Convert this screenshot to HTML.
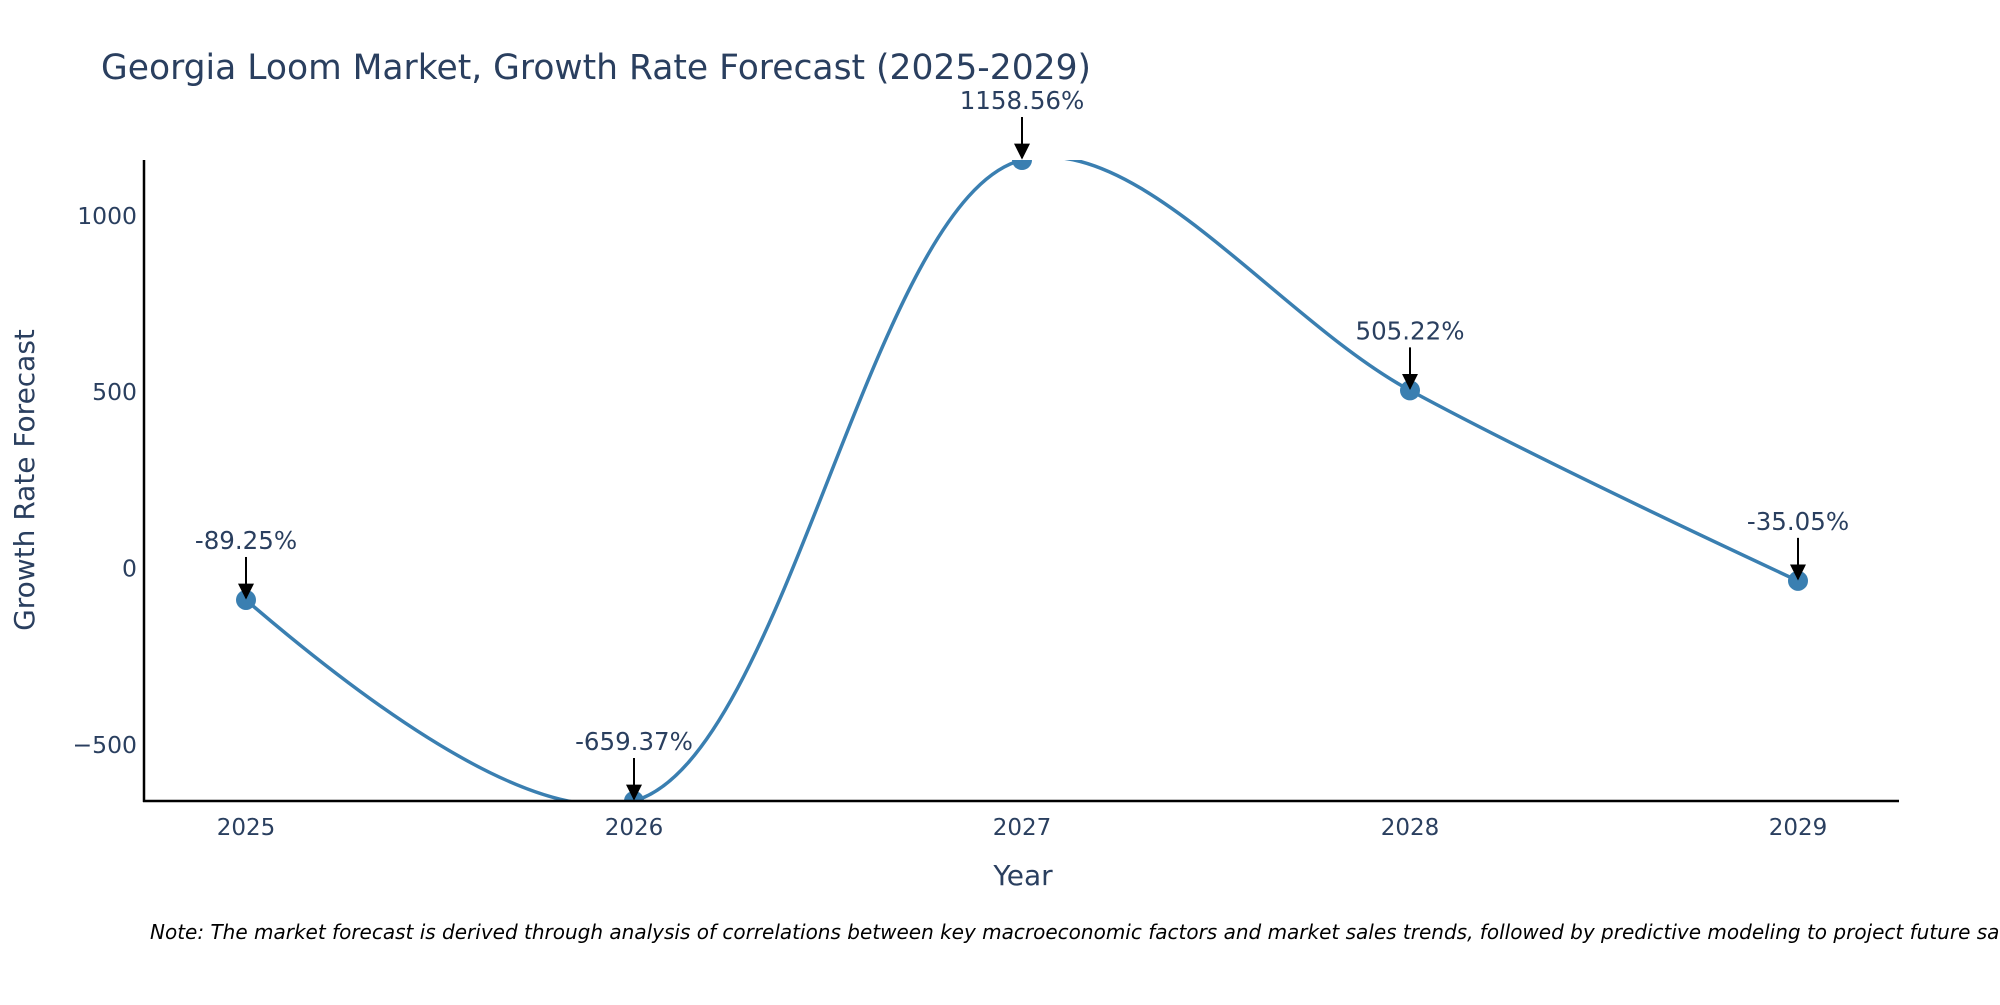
<!DOCTYPE html>
<html><head><meta charset="utf-8"><style>
body{margin:0;background:#fff;}
svg{font-family:"Liberation Sans","DejaVu Sans",sans-serif;}
</style></head><body>
<svg width="2000" height="1000" viewBox="0 0 2000 1000" xmlns="http://www.w3.org/2000/svg">
<defs><clipPath id="pc"><rect x="144" y="160" width="1756" height="641"/></clipPath>
<marker id="ah" viewBox="0 0 10 10" refX="9" refY="5" markerWidth="8" markerHeight="8" orient="auto"><path d="M0,0 L10,5 L0,10 z" fill="#000"/></marker></defs>
<text x="101" y="79" font-size="34.5" fill="#2a3f5f" font-family="DejaVu Sans, sans-serif">Georgia Loom Market, Growth Rate Forecast (2025-2029)</text>
<g id="axes"></g>
<g id="series" clip-path="url(#pc)"></g>
<g id="ann"></g>
<line x1="144" y1="160" x2="144" y2="802" stroke="#000" stroke-width="2.5"/>
<line x1="143" y1="801" x2="1899" y2="801" stroke="#000" stroke-width="2.5"/>
<text x="1023" y="885" font-size="28" fill="#2a3f5f" text-anchor="middle" font-family="DejaVu Sans, sans-serif">Year</text>
<text transform="translate(34,480) rotate(-90)" font-size="28" fill="#2a3f5f" text-anchor="middle" font-family="DejaVu Sans, sans-serif">Growth Rate Forecast</text>
<text x="150" y="939" font-size="20" font-style="italic" fill="#000" font-family="DejaVu Sans, sans-serif">Note: The market forecast is derived through analysis of correlations between key macroeconomic factors and market sales trends, followed by predictive modeling to project future sales.</text>
</svg>
<script>
const years=[2025,2026,2027,2028,2029];
const growth=[-89.25,-659.37,1158.56,505.22,-35.05];
const labels=["-89.25%","-659.37%","1158.56%","505.22%","-35.05%"];
const yTicks=[-500,0,500,1000];
const NS="http://www.w3.org/2000/svg";
const yMin=-659.37,yMax=1158.56;
const xs=v=>246+(v-2025)*388;
const ys=v=>801-(v-yMin)/(yMax-yMin)*641;
function el(t,a,p){const e=document.createElementNS(NS,t);for(const k in a)e.setAttribute(k,a[k]);p.appendChild(e);return e;}
const axes=document.getElementById('axes');
yTicks.forEach(t=>{
  const e=el('text',{x:137,y:ys(t)+8,'font-size':23.5,fill:'#2a3f5f','text-anchor':'end','font-family':'DejaVu Sans, sans-serif'},axes);
  e.textContent=t<0?'\u2212'+Math.abs(t):String(t);
  
  
});
years.forEach(y=>{
  const e=el('text',{x:xs(y),y:835,'font-size':23,fill:'#2a3f5f','text-anchor':'middle','font-family':'DejaVu Sans, sans-serif'},axes);
  e.textContent=String(y);
  
  
});
const pts=years.map((y,i)=>[xs(y),ys(growth[i])]);
function tan(p,t,n,s){const d1x=p[0]-t[0],d1y=p[1]-t[1],d2x=n[0]-t[0],d2y=n[1]-t[1];
 const d1a=Math.pow(d1x*d1x+d1y*d1y,0.25),d2a=Math.pow(d2x*d2x+d2y*d2y,0.25);
 const nx=(d2a*d2a*d1x-d1a*d1a*d2x)*s,ny=(d2a*d2a*d1y-d1a*d1a*d2y)*s;
 const D1=3*d2a*(d1a+d2a),D2=3*d1a*(d1a+d2a);
 return [[t[0]+nx/D1,t[1]+ny/D1],[t[0]-nx/D2,t[1]-ny/D2]];}
const T=[];for(let i=1;i<pts.length-1;i++)T.push(tan(pts[i-1],pts[i],pts[i+1],1));
const f=p=>p[0].toFixed(2)+','+p[1].toFixed(2);
let d='M'+f(pts[0])+'Q'+f(T[0][0])+' '+f(pts[1]);
for(let i=2;i<pts.length-1;i++)d+='C'+f(T[i-2][1])+' '+f(T[i-1][0])+' '+f(pts[i]);
d+='Q'+f(T[T.length-1][1])+' '+f(pts[pts.length-1]);
const S=document.getElementById('series');
const line=el('path',{d:d,fill:'none',stroke:'#3a7fb1','stroke-width':3.5},S);


pts.forEach(p=>{const c=el('circle',{cx:p[0],cy:p[1],r:10,fill:'#3a7fb1'},S);
 
 });
const A=document.getElementById('ann');
pts.forEach((p,i)=>{
 const l=el('line',{x1:p[0],y1:p[1]-43,x2:p[0],y2:p[1]-2,stroke:'#000','stroke-width':2,'marker-end':'url(#ah)'},A);
 
 
 const t=el('text',{x:p[0],y:p[1]-51,'font-size':24.5,fill:'#2a3f5f','text-anchor':'middle','font-family':'DejaVu Sans, sans-serif'},A);
 t.textContent=labels[i];
 
 
});
</script>
</body></html>
